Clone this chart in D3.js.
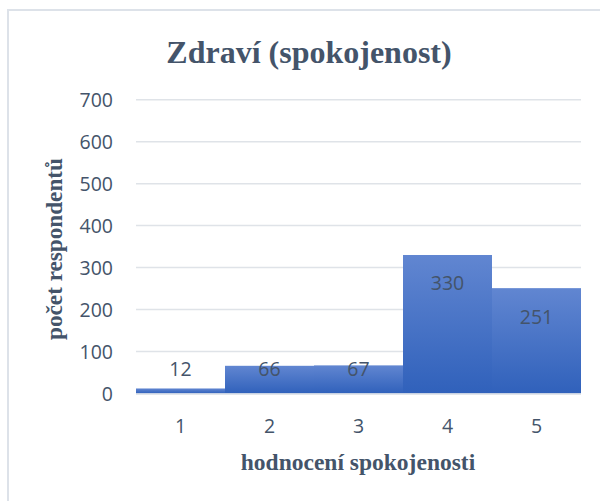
<!DOCTYPE html>
<html>
<head>
<meta charset="utf-8">
<script src="https://cdn.jsdelivr.net/npm/d3@7"></script>
<style>
  html, body { margin: 0; padding: 0; background: #ffffff; }
  svg { display: block; }
</style>
</head>
<body>
<script>
// Satisfaction ratings and how many respondents chose each one
const categories = ["1", "2", "3", "4", "5"];
const counts = [12, 66, 67, 330, 251];
const yTicks = [0, 100, 200, 300, 400, 500, 600, 700];
const chartTitle = "Zdraví (spokojenost)";
const xTitle = "hodnocení spokojenosti";
const yTitle = "počet respondentů";

const W = 600, H = 501;
const plot = { left: 136, right: 581, top: 99.7, bottom: 393.5 };
const textColor = "#44546a";
const sans = "'Open Sans', 'Noto Sans', sans-serif";
const serif = "'Liberation Serif', 'Times New Roman', serif";

const svg = d3.select("body").append("svg")
  .attr("width", W).attr("height", H);

// chart frame (only the top and left edges fall inside the window)
svg.append("rect")
  .attr("x", 8).attr("y", 10)
  .attr("width", W + 20).attr("height", H + 20)
  .attr("fill", "#ffffff")
  .attr("stroke", "#dde2e9").attr("stroke-width", 2);

const defs = svg.append("defs");
const grad = defs.append("linearGradient")
  .attr("id", "barFill").attr("x1", 0).attr("y1", 0).attr("x2", 0).attr("y2", 1);
grad.append("stop").attr("offset", "0%").attr("stop-color", "#6186d1");
grad.append("stop").attr("offset", "100%").attr("stop-color", "#3061bb");

const x = d3.scaleBand().domain(categories).range([plot.left, plot.right]).padding(0);
const y = d3.scaleLinear().domain([0, 700]).range([plot.bottom, plot.top]);

// horizontal gridlines
svg.append("g").selectAll("line")
  .data(yTicks.filter(t => t > 0))
  .join("line")
  .attr("x1", plot.left).attr("x2", plot.right)
  .attr("y1", d => y(d)).attr("y2", d => y(d))
  .attr("stroke", "#dfe3e8").attr("stroke-width", 1.5);

// y tick labels
svg.append("g").selectAll("text")
  .data(yTicks)
  .join("text")
  .attr("x", 113).attr("y", d => y(d))
  .attr("text-anchor", "end").attr("dominant-baseline", "central")
  .attr("font-family", sans).attr("font-size", 19.5)
  .attr("fill", textColor)
  .text(d => d);

// bars
const data = categories.map((c, i) => ({ c, v: counts[i] }));
svg.append("g").selectAll("rect")
  .data(data)
  .join("rect")
  .attr("x", d => x(d.c)).attr("width", x.bandwidth())
  .attr("y", d => y(d.v)).attr("height", d => y(0) - y(d.v))
  .attr("fill", "url(#barFill)");

// category axis line
svg.append("line")
  .attr("x1", plot.left).attr("x2", plot.right)
  .attr("y1", y(0) + 0.5).attr("y2", y(0) + 0.5)
  .attr("stroke", "#d9dee5").attr("stroke-width", 1.5);

// value labels: inside the top of tall bars, otherwise just above the baseline area
svg.append("g").selectAll("text")
  .data(data)
  .join("text")
  .attr("x", d => x(d.c) + x.bandwidth() / 2)
  .attr("y", d => Math.min(y(d.v) + 28, y(60)))
  .attr("text-anchor", "middle").attr("dominant-baseline", "central")
  .attr("font-family", sans).attr("font-size", 19.5)
  .attr("fill", textColor)
  .text(d => d.v);

// x tick labels
svg.append("g").selectAll("text")
  .data(categories)
  .join("text")
  .attr("x", d => x(d) + x.bandwidth() / 2).attr("y", 425)
  .attr("text-anchor", "middle").attr("dominant-baseline", "central")
  .attr("font-family", sans).attr("font-size", 19.5)
  .attr("fill", textColor)
  .text(d => d);

// titles
svg.append("text")
  .attr("x", 309).attr("y", 62.5)
  .attr("text-anchor", "middle")
  .attr("font-family", serif).attr("font-weight", "bold").attr("font-size", 32)
  .attr("fill", textColor)
  .text(chartTitle);

svg.append("text")
  .attr("x", 358).attr("y", 470)
  .attr("text-anchor", "middle")
  .attr("font-family", serif).attr("font-weight", "bold").attr("font-size", 23.5)
  .attr("fill", textColor)
  .text(xTitle);

svg.append("text")
  .attr("transform", "translate(62,249) rotate(-90)")
  .attr("text-anchor", "middle")
  .attr("font-family", serif).attr("font-weight", "bold").attr("font-size", 23.2)
  .attr("fill", textColor)
  .text(yTitle);
</script>
</body>
</html>
